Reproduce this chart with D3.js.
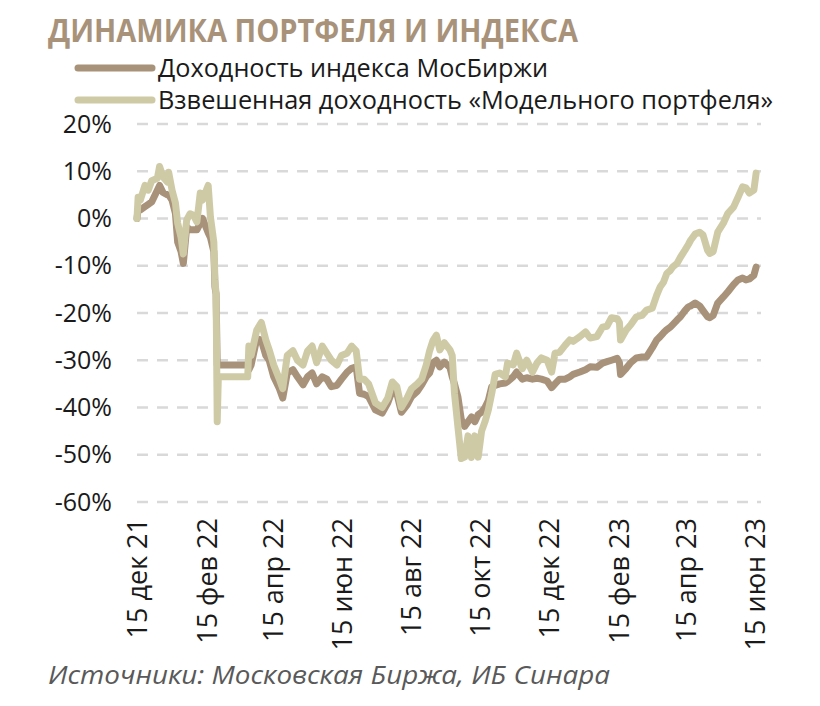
<!DOCTYPE html>
<html lang="ru">
<head>
<meta charset="UTF-8">
<title>Динамика портфеля и индекса</title>
<script src="https://d3js.org/d3.v7.min.js"></script>
<style>
  body { margin: 0; background: #fff; }
  text { font-family: "Open Sans", "DejaVu Sans", sans-serif; }
</style>
</head>
<body>
<svg width="820" height="706"></svg>
<script>
// даты наблюдений
const dates = [
  "2021-12-15","2021-12-16","2021-12-18","2021-12-22","2021-12-25","2021-12-28",
  "2022-01-02","2022-01-04","2022-01-07","2022-01-11","2022-01-12","2022-01-15","2022-01-18","2022-01-20","2022-01-23","2022-01-25","2022-01-28","2022-01-31",
  "2022-02-03","2022-02-06","2022-02-09","2022-02-11","2022-02-16","2022-02-18","2022-02-21","2022-02-22","2022-02-23","2022-02-24","2022-02-25",
  "2022-03-23","2022-03-24","2022-03-26","2022-03-31",
  "2022-04-04","2022-04-08","2022-04-11","2022-04-15","2022-04-20","2022-04-23","2022-04-27",
  "2022-05-02","2022-05-06","2022-05-11","2022-05-15","2022-05-19","2022-05-23","2022-05-28",
  "2022-06-01","2022-06-05","2022-06-10","2022-06-14","2022-06-19","2022-06-23","2022-06-27","2022-06-30",
  "2022-07-04","2022-07-08","2022-07-14","2022-07-20","2022-07-25","2022-07-29",
  "2022-08-02","2022-08-06","2022-08-11","2022-08-15","2022-08-20","2022-08-24","2022-08-28","2022-08-31",
  "2022-09-03","2022-09-06","2022-09-09","2022-09-13","2022-09-18","2022-09-20","2022-09-22","2022-09-25","2022-09-28",
  "2022-10-01","2022-10-04","2022-10-07","2022-10-10","2022-10-13","2022-10-16","2022-10-19","2022-10-22","2022-10-25","2022-10-28",
  "2022-11-01","2022-11-06","2022-11-08","2022-11-13","2022-11-16","2022-11-21","2022-11-25","2022-11-30",
  "2022-12-04","2022-12-08","2022-12-13","2022-12-17","2022-12-20","2022-12-24","2022-12-29",
  "2023-01-02","2023-01-05","2023-01-11","2023-01-16","2023-01-20","2023-01-26","2023-01-31",
  "2023-02-04","2023-02-08","2023-02-13","2023-02-15","2023-02-16","2023-02-21","2023-02-25",
  "2023-03-02","2023-03-07","2023-03-11","2023-03-16","2023-03-20","2023-03-23","2023-03-26","2023-03-29",
  "2023-04-01","2023-04-03","2023-04-07","2023-04-10","2023-04-14","2023-04-17","2023-04-19","2023-04-23","2023-04-27","2023-04-30",
  "2023-05-04","2023-05-06","2023-05-09","2023-05-13","2023-05-18","2023-05-22","2023-05-27","2023-05-31",
  "2023-06-04","2023-06-07","2023-06-10","2023-06-14","2023-06-16"
];

// Доходность индекса МосБиржи, %
const indexReturn = [
  0, 2, 1.8, 2.5, 3, 3.5,
  6, 7, 5.5, 5, 5, 3.9, 1.1, -5, -7, -9.5, -1.8, -2.4,
  -2.4, -2.4, -1, 0, -3, -4, -7, -14.5, -16, -31, -31,
  -31, -32, -31, -25.5,
  -25.7, -29, -30, -33.5, -36, -38, -32.7,
  -32, -33.5, -35.2, -33.5, -32.7, -35, -33.5,
  -34, -35.6, -35.3, -34, -32.5, -31.7, -31.4, -37,
  -37.2, -37.7, -40.5, -41.2, -39, -36.4,
  -37, -41, -39.5, -37.7, -36.6, -35.2, -33.5, -32.7,
  -30.5, -30, -31.4, -30.4, -31.5, -33.5, -35, -37.7, -42.5,
  -44, -43, -42, -43, -41.5, -41, -40, -38.5, -35.6, -35.3,
  -35, -34.8, -34.5, -33.5, -32.5, -34, -33.7, -34,
  -33.8, -34, -34.4, -35.8, -35, -34, -34,
  -33.5, -33, -32.5, -32, -31.4, -31.5, -30.6,
  -30.3, -30, -29.6, -30.5, -33, -31.7, -30.5,
  -29.5, -29.3, -29.3, -27.4, -25.7, -25, -24.2, -23.5,
  -23, -22.5, -21.5, -20.8, -19.5, -18.7, -18.5, -17.9, -18.5, -19.5,
  -20.8, -21, -20.5, -17.9, -16.6, -15.5, -14, -13,
  -12.6, -13, -12.8, -12, -10.3
];

// Взвешенная доходность «Модельного портфеля», %
const portfolioReturn = [
  0, 4.5, 3.9, 7, 6, 8,
  8.5, 11, 8.8, 7.7, 9.8, 6, 3.3, -1, -4, -7.5, -0.3, 1,
  0.7, -0.7, 5.4, 3.9, 7, 0.3, -5, -13, -16, -43, -33.5,
  -33.5, -27, -29, -23.6,
  -22, -25.7, -27.8, -31, -34, -36, -29,
  -28, -30, -31, -28, -27, -30.5, -27,
  -28.5, -30, -31, -29, -28.5, -27, -28, -34,
  -34, -35, -39, -40, -38, -34.6,
  -35.6, -40, -38, -36, -35, -34, -31, -28,
  -25.8, -24.7, -27.8, -26.3, -27.8, -29, -37, -44, -50.8,
  -50.5, -46, -50.6, -46, -50.5, -45, -43, -40.5, -37, -33,
  -32.7, -33.5, -30.6, -31, -28.5, -31.8, -30, -32.5,
  -30.6, -29.5, -30, -32.5, -28.5, -28.3, -26.8,
  -25.7, -26, -25, -24, -25.3, -25, -23,
  -22.8, -21, -21.2, -22, -25.7, -23.6, -22.5,
  -20.8, -20.5, -19.4, -19, -16.2, -14.5, -13.5, -11.6,
  -11, -10.3, -9.5, -8.2, -6.7, -5.5, -4.6, -3.3, -2.9, -3.5,
  -6.7, -7.4, -7, -2.9, -1, 1.1, 2.4, 4.5,
  6.7, 6.5, 5.4, 6, 9.6
];

const yTicks = [20, 10, 0, -10, -20, -30, -40, -50, -60];
const xTicks = ["2021-12-15","2022-02-15","2022-04-15","2022-06-15","2022-08-15",
                "2022-10-15","2022-12-15","2023-02-15","2023-04-15","2023-06-15"];
const monthsRu = ["янв","фев","мар","апр","май","июн","июл","авг","сен","окт","ноя","дек"];

const titleText = "ДИНАМИКА ПОРТФЕЛЯ И ИНДЕКСА";
const seriesNames = ["Доходность индекса МосБиржи", "Взвешенная доходность «Модельного портфеля»"];
const sourceText = "Источники: Московская Биржа, ИБ Синара";

const colIndex = "#a8927a";
const colPortfolio = "#cfcaa6";

const svg = d3.select("svg");
const parse = d3.utcParse("%Y-%m-%d");

const x = d3.scaleUtc()
  .domain([parse("2021-12-15"), parse("2023-06-15")])
  .range([137, 755]);
const y = d3.scaleLinear()
  .domain([-60, 20])
  .range([502, 124]);

// заголовок
svg.append("text")
  .attr("x", 48).attr("y", 42)
  .attr("font-size", 32).attr("font-weight", 700)
  .attr("fill", colIndex)
  .attr("textLength", 530).attr("lengthAdjust", "spacingAndGlyphs")
  .text(titleText);

// легенда
const legend = [
  { name: seriesNames[0], color: colIndex, y: 68, len: 390 },
  { name: seriesNames[1], color: colPortfolio, y: 100, len: 615 }
];
legend.forEach(d => {
  svg.append("line")
    .attr("x1", 78).attr("x2", 152)
    .attr("y1", d.y).attr("y2", d.y)
    .attr("stroke", d.color).attr("stroke-width", 7)
    .attr("stroke-linecap", "round");
  svg.append("text")
    .attr("x", 158).attr("y", d.y + 9)
    .attr("font-size", 25).attr("fill", "#1a1a1a")
    .attr("textLength", d.len).attr("lengthAdjust", "spacingAndGlyphs")
    .text(d.name);
});

// сетка
svg.append("g")
  .selectAll("line")
  .data(yTicks)
  .join("line")
  .attr("x1", 137).attr("x2", 761)
  .attr("y1", d => y(d)).attr("y2", d => y(d))
  .attr("stroke", "#d9d9d9").attr("stroke-width", 2.5)
  .attr("stroke-dasharray", "11,9");

// ось Y
const yAxis = svg.append("g")
  .attr("transform", "translate(112,0)")
  .call(d3.axisLeft(y).tickValues(yTicks).tickSize(0).tickPadding(0).tickFormat(d => d + "%"));
yAxis.select(".domain").remove();
yAxis.selectAll("text")
  .attr("font-size", 25).attr("fill", "#1a1a1a")
  .attr("font-family", "'Open Sans', sans-serif");

// ось X (подписи повернуты)
const fmt = d => d.getUTCDate() + " " + monthsRu[d.getUTCMonth()] + " " + String(d.getUTCFullYear()).slice(2);
svg.append("g")
  .selectAll("text")
  .data(xTicks.map(parse))
  .join("text")
  .attr("transform", d => `translate(${x(d)},518) rotate(-90)`)
  .attr("text-anchor", "end")
  .attr("dy", "0.36em")
  .attr("font-size", 27).attr("fill", "#1a1a1a")
  .text(fmt);

// линии
const rows = dates.map((d, i) => ({ date: parse(d), idx: indexReturn[i], pf: portfolioReturn[i] }));

const lineIdx = d3.line().x(d => x(d.date)).y(d => y(d.idx));
const linePf = d3.line().x(d => x(d.date)).y(d => y(d.pf));

svg.append("path")
  .datum(rows)
  .attr("d", lineIdx)
  .attr("fill", "none").attr("stroke", colIndex)
  .attr("stroke-width", 7).attr("stroke-linejoin", "round").attr("stroke-linecap", "round");

svg.append("path")
  .datum(rows)
  .attr("d", linePf)
  .attr("fill", "none").attr("stroke", colPortfolio)
  .attr("stroke-width", 7).attr("stroke-linejoin", "round").attr("stroke-linecap", "round");

// источник
svg.append("text")
  .attr("x", 48).attr("y", 684)
  .attr("font-size", 26).attr("font-style", "italic")
  .attr("fill", "#595959")
  .attr("textLength", 562).attr("lengthAdjust", "spacingAndGlyphs")
  .text(sourceText);
</script>
</body>
</html>
